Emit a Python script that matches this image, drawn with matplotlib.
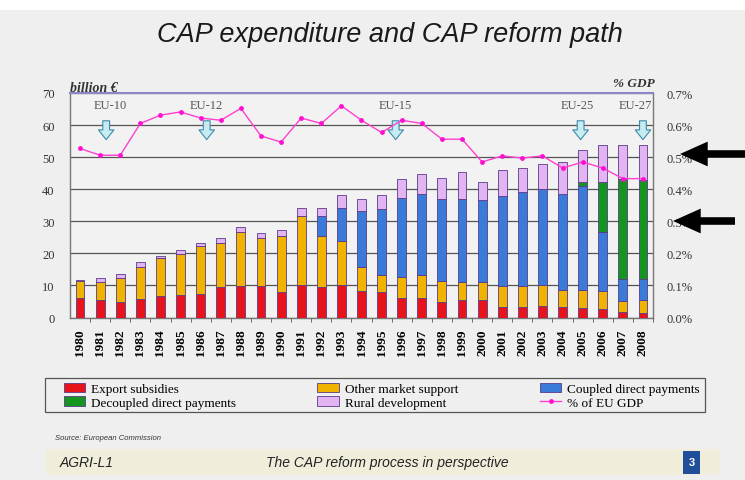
import matplotlib
matplotlib.use("Agg")
import matplotlib.pyplot as plt
import numpy as np
from matplotlib.patches import Rectangle, FancyBboxPatch

years = list(range(1980, 2009))
export_subsidies = [6.0, 5.6, 4.9, 5.8, 6.6, 7.0, 7.3, 9.6, 9.9, 9.9, 8.1,
                    10.2, 9.4, 10.2, 8.3, 7.9, 6.0, 6.0, 4.9, 5.6, 5.6,
                    3.4, 3.4, 3.7, 3.4, 3.1, 2.7, 1.6, 1.3]
other_market = [5.4, 5.6, 7.4, 10.1, 11.9, 12.9, 15.1, 13.7, 16.9, 14.8, 17.3,
                21.4, 16.0, 13.8, 7.4, 5.5, 6.5, 7.1, 6.6, 5.6, 5.4,
                6.3, 6.3, 6.5, 5.2, 5.5, 5.6, 3.7, 4.2]
coupled_direct = [0, 0, 0, 0, 0, 0, 0, 0, 0, 0, 0,
                  0, 6.4, 10.1, 17.4, 20.5, 24.7, 25.5, 25.5, 25.8, 25.5,
                  28.2, 29.4, 30.0, 29.8, 32.3, 18.5, 6.7, 6.5]
decoupled_direct = [0, 0, 0, 0, 0, 0, 0, 0, 0, 0, 0,
                    0, 0, 0, 0, 0, 0, 0, 0, 0, 0,
                    0, 0, 0, 0, 1.3, 15.4, 31.1, 30.8]
rural_dev = [0.3, 1.1, 1.3, 1.3, 0.8, 1.3, 0.9, 1.4, 1.4, 1.6, 2.0,
             2.5, 2.3, 4.0, 3.7, 4.4, 6.1, 6.2, 6.5, 8.4, 5.7,
             8.0, 7.5, 7.7, 10.1, 10.1, 11.5, 10.6, 11.1]
gdp_share = [0.527, 0.506, 0.506, 0.605, 0.631, 0.641, 0.622, 0.615, 0.652, 0.566, 0.547,
             0.622, 0.605, 0.660, 0.615, 0.577, 0.615, 0.605, 0.556, 0.556, 0.485,
             0.504, 0.497, 0.504, 0.466, 0.485, 0.466, 0.433, 0.433]
enlargements = ["EU-10", "EU-12", "EU-15", "EU-25", "EU-27"]
enlarge_pos = [1.3, 6.3, 15.7, 24.9, 28.0]
enlarge_label_pos = [1.5, 6.3, 15.7, 24.75, 27.6]

series = [
    ("Export subsidies", export_subsidies, "#e8141c"),
    ("Other market support", other_market, "#f0b400"),
    ("Coupled direct payments", coupled_direct, "#3a7ad8"),
    ("Decoupled direct payments", decoupled_direct, "#14961e"),
    ("Rural development", rural_dev, "#e2b4f2"),
]

bg = "#efefef"
fig = plt.figure(figsize=(7.45, 4.81), dpi=100, facecolor=bg)
fig.patches.append(Rectangle((0, 1 - 11 / 481), 1, 11 / 481, transform=fig.transFigure,
                             facecolor="white", edgecolor="none", zorder=0))

ax = fig.add_axes([70 / 745, 1 - 318.5 / 481, 583 / 745, 224.5 / 481])
ax.set_facecolor("#f2f2f2")
x = np.arange(len(years))
bottom = np.zeros(len(years))
handles = []
for name, vals, col in series:
    v = np.array(vals)
    b = ax.bar(x, v, 0.44, bottom=bottom, color=col, edgecolor="#5a3a8a",
               linewidth=0.6, zorder=3, label=name)
    handles.append(b)
    bottom += v

ax.set_xlim(-0.5, 28.35)
ax.set_ylim(0, 70)
ax.set_yticks(range(0, 71, 10))
ax.yaxis.grid(True, color="#555555", linewidth=0.9, zorder=1)
ax.set_axisbelow(True)
ax.set_xticks(x)
ax.set_xticklabels([str(y) for y in years], rotation=90, family="Liberation Serif",
                   fontweight="bold", fontsize=9.5)
ax.set_xticks(x + 0.5, minor=True)
ax.tick_params(axis="x", which="major", length=0, pad=8)
ax.tick_params(axis="x", which="minor", length=3, color="#555555")
ax.tick_params(axis="y", length=0, labelsize=9, pad=11)
for lab in ax.get_yticklabels():
    lab.set_family("Liberation Serif")
    lab.set_color("#333333")
for s in ["left", "right", "bottom"]:
    ax.spines[s].set_color("#777777")
    ax.spines[s].set_linewidth(1.0)
ax.spines["top"].set_color("#8a88c8")
ax.spines["top"].set_linewidth(1.5)

ax2 = ax.twinx()
ax2.set_ylim(0, 0.7)
ax2.set_yticks(np.arange(0, 0.71, 0.1))
ax2.set_yticklabels([f"{v:.1f}%" for v in np.arange(0, 0.71, 0.1)],
                    family="Liberation Serif", fontsize=9, color="#333333")
ax2.tick_params(axis="y", length=0, pad=10)
for s in ax2.spines.values():
    s.set_visible(False)
line, = ax2.plot(x, gdp_share, color="#ff40d0", linewidth=1.0, marker="o",
                 markersize=3.5, markerfacecolor="#ff10d0", markeredgewidth=0,
                 zorder=5, label="% of EU GDP")

for lbl, xa, xl in zip(enlargements, enlarge_pos, enlarge_label_pos):
    ax.annotate("", xy=(xa, 54.6), xytext=(xa, 62.2),
                arrowprops=dict(arrowstyle="simple,head_length=0.5,head_width=0.8,tail_width=0.35",
                                mutation_scale=14, facecolor="#c6ecf2", edgecolor="#3f8aa8",
                                linewidth=0.8), zorder=6, annotation_clip=False)
    ax.text(xl, 66.4, lbl, ha="center", va="center", family="Liberation Serif",
            fontsize=9, color="#555555", zorder=6, clip_on=False)

fig.text(70 / 745, 1 - 88 / 481, "billion \u20ac", family="Liberation Serif", style="italic",
         fontweight="bold", fontsize=10, color="#333333", ha="left", va="center")
fig.text(655 / 745, 1 - 84 / 481, "% GDP", family="Liberation Serif", style="italic",
         fontweight="bold", fontsize=9.5, color="#333333", ha="right", va="center")

fig.text(390 / 745, 1 - 35 / 481, "CAP expenditure and CAP reform path",
         family="Liberation Sans", style="italic", fontsize=19.5, color="#1a1a1a",
         ha="center", va="center")

fig.patches.append(Rectangle((45 / 745, 1 - 413 / 481), 660 / 745, 34 / 481,
                             transform=fig.transFigure, facecolor=bg,
                             edgecolor="#555555", linewidth=0.9, zorder=1))
order = [handles[0], handles[3], handles[1], handles[4], handles[2], line]
leg = fig.legend(order, [h.get_label() for h in order], ncol=3,
                 loc="upper left", bbox_to_anchor=(59 / 745, 1 - 379 / 481),
                 borderaxespad=0, prop=dict(family="Liberation Serif", size=9.5),
                 frameon=False, handlelength=1.65, handleheight=0.75, columnspacing=6.2,
                 labelspacing=0.1, borderpad=0.35, handletextpad=0.4)

fig.text(55 / 745, 1 - 438 / 481, "Source: European Commission", family="Liberation Sans",
         style="italic", fontsize=5.5, color="#333333", ha="left", va="center")

fig.patches.append(FancyBboxPatch((45 / 745, 1 - 476 / 481), 675 / 745, 26 / 481,
                                  boxstyle="round,pad=0,rounding_size=0.01",
                                  transform=fig.transFigure, facecolor="#f0eedb",
                                  edgecolor="none", zorder=0))
fig.text(60 / 745, 1 - 463 / 481, "AGRI-L1", family="Liberation Sans", style="italic",
         fontsize=10, color="#222222", ha="left", va="center")
fig.text(387 / 745, 1 - 463 / 481, "The CAP reform process in perspective",
         family="Liberation Sans", style="italic", fontsize=10, color="#222222",
         ha="center", va="center")
fig.patches.append(Rectangle((683 / 745, 1 - 475 / 481), 17 / 745, 23 / 481,
                             transform=fig.transFigure, facecolor="#1f4f9a",
                             edgecolor="none", zorder=1))
fig.text(691.5 / 745, 1 - 463.5 / 481, "3", family="Liberation Sans", fontweight="bold",
         fontsize=8, color="white", ha="center", va="center")

for tip_x, tail_x, yy in [(680, 745, 155), (673, 735, 222)]:
    fig.add_artist(matplotlib.patches.FancyArrowPatch(
        (tail_x / 745, 1 - yy / 481), (tip_x / 745, 1 - yy / 481),
        transform=fig.transFigure,
        arrowstyle="simple,head_length=0.95,head_width=0.85,tail_width=0.26",
        mutation_scale=21, facecolor="black", edgecolor="black", linewidth=0,
        shrinkA=0, shrinkB=0, zorder=10))

fig.savefig("out.png", dpi=100, facecolor=bg)
